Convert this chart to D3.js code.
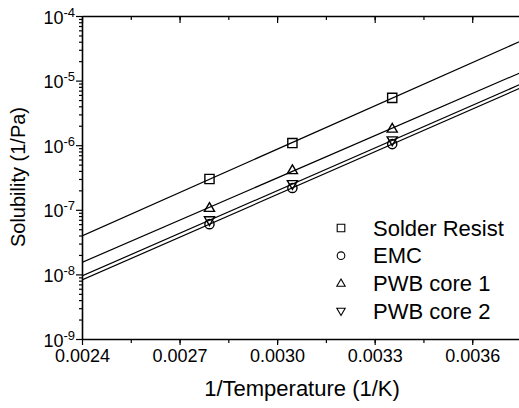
<!DOCTYPE html>
<html>
<head>
<meta charset="utf-8">
<script src="https://cdn.jsdelivr.net/npm/d3@7"></script>
<style>
  body { margin: 0; background: #fff; }
  text { font-family: "Liberation Sans", Arial, sans-serif; fill: #000; }
</style>
</head>
<body>
<div id="container"></div>
<script>
/* CONSTANTS AND GLOBALS */
const width = 519,
  height = 408,
  margin = { top: 16, bottom: 69, left: 82, right: -2 };

/* DATA */
const invTemp = [0.002792, 0.003047, 0.003354];
const solderResist = [3.0e-7, 1.08e-6, 5.4e-6];
const emc = [6.0e-8, 2.18e-7, 1.04e-6];
const pwbCore1 = [1.07e-7, 4.1e-7, 1.8e-6];
const pwbCore2 = [6.9e-8, 2.5e-7, 1.19e-6];
const seriesNames = ["Solder Resist", "EMC", "PWB core 1", "PWB core 2"];
const seriesSymbols = ["square", "circle", "up", "down"];
const xTicks = [0.0024, 0.0027, 0.0030, 0.0033, 0.0036];
const yExponents = [-9, -8, -7, -6, -5, -4];

const series = [solderResist, emc, pwbCore1, pwbCore2].map((vals, i) => ({
  name: seriesNames[i],
  symbol: seriesSymbols[i],
  points: vals.map((v, j) => ({ x: invTemp[j], y: v }))
}));

/* SCALES */
const xScale = d3.scaleLinear()
  .domain([0.0024, 0.00375])
  .range([margin.left, width - margin.right]);

const yScale = d3.scaleLog()
  .domain([1e-9, 1e-4])
  .range([height - margin.bottom, margin.top]);

const svg = d3.select("#container")
  .append("svg")
  .attr("width", width)
  .attr("height", height);

// minor tick values
const xMinor = d3.range(0.00225, 0.0039, 0.00015).filter(v => v > 0.0024 && v < 0.00375);
const yMinor = [];
yExponents.slice(0, -1).forEach(e => {
  for (let k = 2; k <= 9; k++) yMinor.push(k * Math.pow(10, e));
});

const fmt = d3.format(".4f");

// bottom axis
svg.append("g")
  .attr("transform", `translate(0, ${height - margin.bottom})`)
  .call(d3.axisBottom(xScale).tickValues(xMinor).tickSize(4).tickFormat(""))
  .call(g => g.select(".domain").remove());

svg.append("g")
  .attr("class", "x-axis")
  .attr("transform", `translate(0, ${height - margin.bottom})`)
  .call(d3.axisBottom(xScale).tickValues(xTicks).tickSize(6).tickSizeOuter(0).tickPadding(4).tickFormat(fmt))
  .call(g => g.selectAll("text").style("font-size", "18px"));

// top axis, ticks pointing in
svg.append("g")
  .attr("transform", `translate(0, ${margin.top})`)
  .call(d3.axisBottom(xScale).tickValues(xMinor).tickSize(4).tickFormat(""))
  .call(g => g.select(".domain").remove());

svg.append("g")
  .attr("transform", `translate(0, ${margin.top})`)
  .call(d3.axisBottom(xScale).tickValues(xTicks).tickSize(7).tickSizeOuter(0).tickFormat(""));

// left axis
svg.append("g")
  .attr("transform", `translate(${margin.left}, 0)`)
  .call(d3.axisLeft(yScale).tickValues(yMinor).tickSize(3).tickFormat(""))
  .call(g => g.select(".domain").remove());

const yAxis = svg.append("g")
  .attr("class", "y-axis")
  .attr("transform", `translate(${margin.left}, 0)`)
  .call(d3.axisLeft(yScale).tickValues(yExponents.map(e => Math.pow(10, e))).tickSize(6).tickSizeOuter(0).tickFormat(""));

yAxis.selectAll(".tick").each(function(d) {
  const t = d3.select(this).append("text")
    .attr("x", -7)
    .attr("y", 7)
    .attr("text-anchor", "end")
    .style("font-size", "18px");
  t.append("tspan").text("10");
  t.append("tspan").attr("dy", -7).style("font-size", "13px").text(Math.round(Math.log10(d)));
});

svg.selectAll(".domain").attr("stroke-width", 1.6);
svg.selectAll(".tick line").attr("stroke-width", 1.2);

// clip for lines
svg.append("clipPath").attr("id", "clip")
  .append("rect")
  .attr("x", margin.left).attr("y", margin.top)
  .attr("width", xScale.range()[1] - margin.left)
  .attr("height", height - margin.bottom - margin.top);

// least squares fit in log space
function fit(points) {
  const xs = points.map(p => p.x), ys = points.map(p => Math.log10(p.y));
  const mx = d3.mean(xs), my = d3.mean(ys);
  const b = d3.sum(xs, (x, i) => (x - mx) * (ys[i] - my)) / d3.sum(xs, x => (x - mx) * (x - mx));
  return x => Math.pow(10, my + b * (x - mx));
}

const line = d3.line().x(d => xScale(d.x)).y(d => yScale(d.y));

svg.append("g").attr("clip-path", "url(#clip)")
  .selectAll("path.fit")
  .data(series)
  .join("path")
  .attr("class", "fit")
  .attr("fill", "none")
  .attr("stroke", "#000")
  .attr("stroke-width", 1.2)
  .attr("d", s => {
    const f = fit(s.points);
    return line(xScale.domain().map(x => ({ x: x, y: f(x) })));
  });

// marker drawing
function symbolPath(type, r) {
  if (type === "square") return `M${-r},${-r}H${r}V${r}H${-r}Z`;
  if (type === "circle") return `M${r},0A${r},${r} 0 1,1 ${-r},0A${r},${r} 0 1,1 ${r},0Z`;
  if (type === "up") return `M0,${-r * 1.15}L${r * 1.1},${r * 0.75}H${-r * 1.1}Z`;
  return `M0,${r * 1.15}L${r * 1.1},${-r * 0.75}H${-r * 1.1}Z`;
}

series.forEach(s => {
  svg.append("g")
    .selectAll("path")
    .data(s.points)
    .join("path")
    .attr("transform", d => `translate(${xScale(d.x)}, ${yScale(d.y)})`)
    .attr("d", symbolPath(s.symbol, 4.6))
    .attr("fill", "none")
    .attr("stroke", "#000")
    .attr("stroke-width", 1.4);
});

// legend
const legend = svg.append("g").attr("transform", "translate(341, 228)");
series.forEach((s, i) => {
  const row = legend.append("g").attr("transform", `translate(0, ${i * 27.7})`);
  row.append("path")
    .attr("d", symbolPath(s.symbol, 3.8))
    .attr("fill", "none")
    .attr("stroke", "#000")
    .attr("stroke-width", 1.1);
  row.append("text")
    .attr("x", 32)
    .attr("y", 7.5)
    .style("font-size", "22px")
    .text(s.name);
});

// axis labels
svg.append("text")
  .attr("x", 302)
  .attr("y", 396)
  .attr("text-anchor", "middle")
  .style("font-size", "22px")
  .text("1/Temperature (1/K)");

svg.append("text")
  .attr("transform", "translate(25, 177) rotate(-90)")
  .attr("text-anchor", "middle")
  .style("font-size", "20px")
  .text("Solubility (1/Pa)");
</script>
</body>
</html>
